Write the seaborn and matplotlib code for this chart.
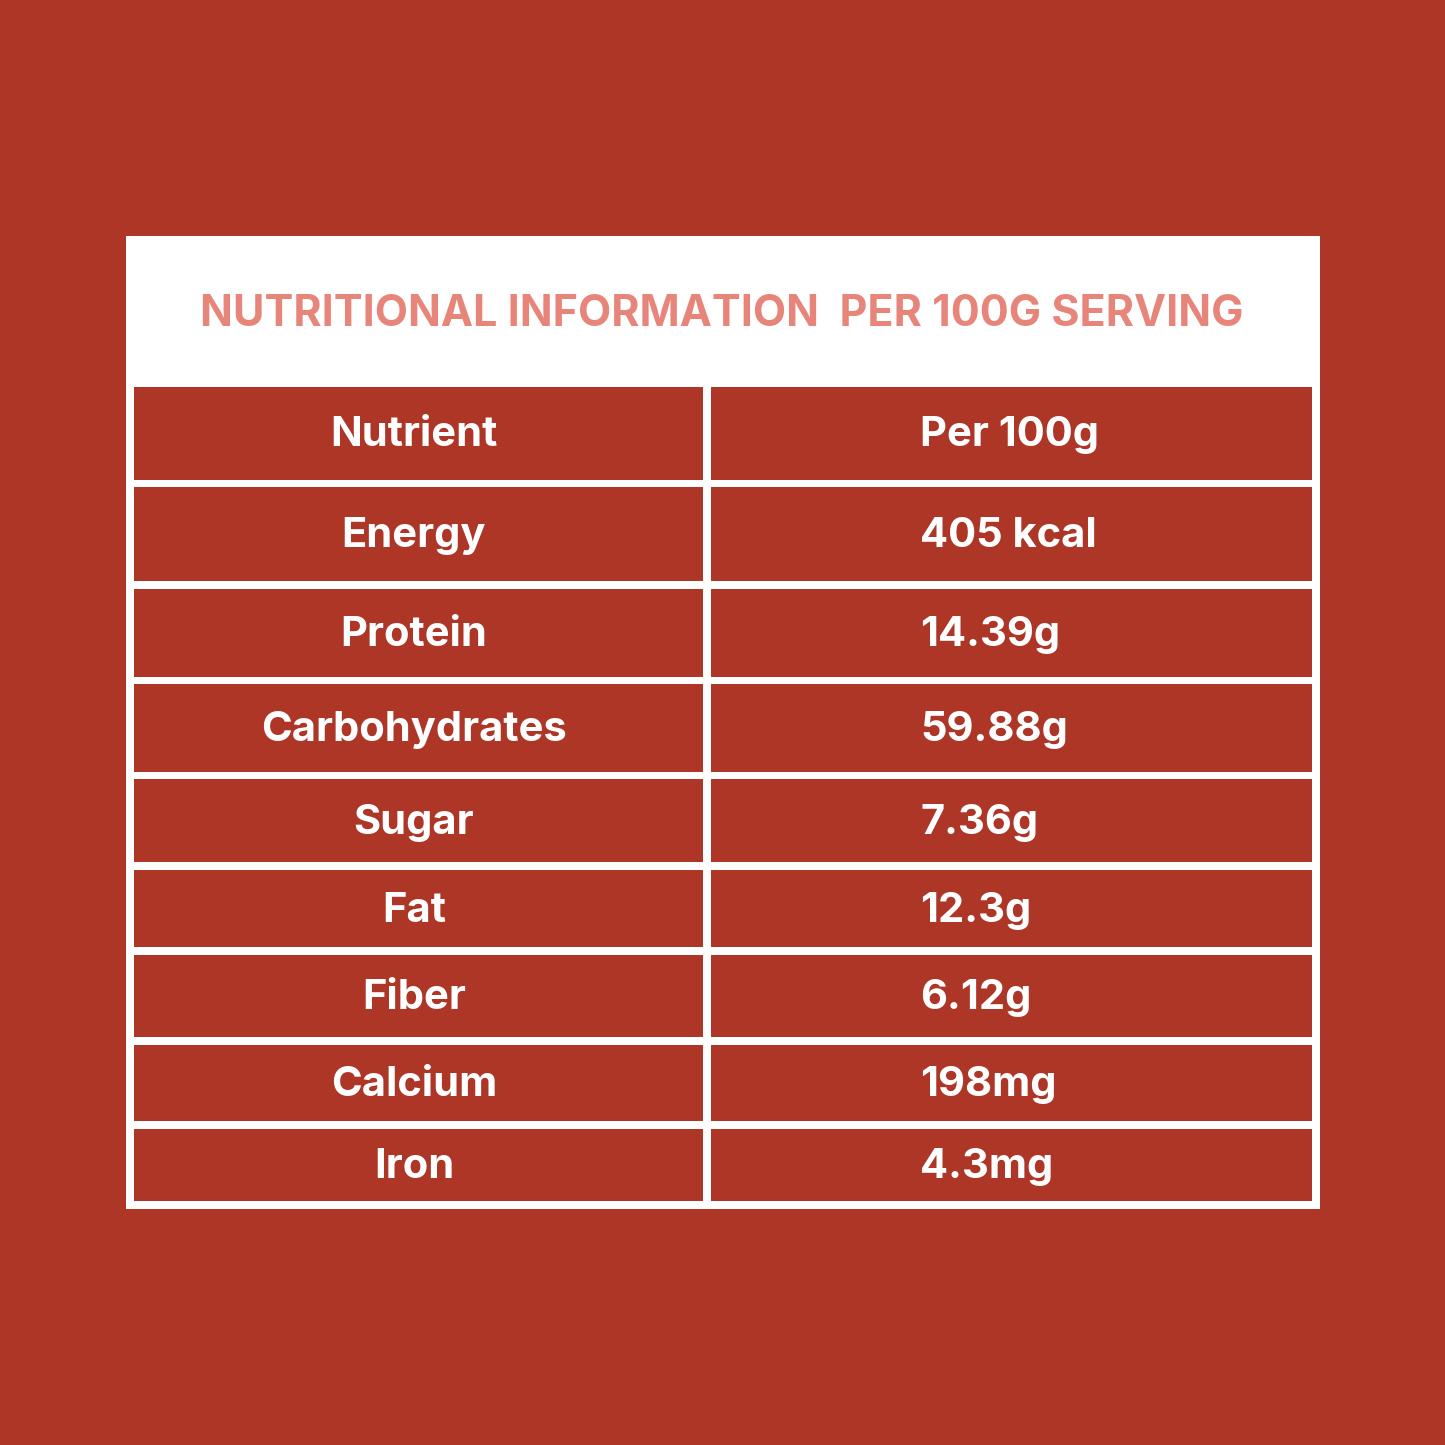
import matplotlib
matplotlib.use("Agg")
import matplotlib.pyplot as plt
import seaborn as sns
from matplotlib.patches import Rectangle

sns.set_theme(style="white")
plt.rcParams['font.family'] = ['Inter', 'DejaVu Sans']

title = "NUTRITIONAL INFORMATION  PER 100G SERVING"
header = ["Nutrient", "Per 100g"]
nutrients = ["Energy", "Protein", "Carbohydrates", "Sugar", "Fat", "Fiber", "Calcium", "Iron"]
values = ["405 kcal", "14.39g", "59.88g", "7.36g", "12.3g", "6.12g", "198mg", "4.3mg"]

BG = "#AD3627"
PINK = "#E8857A"
row_tops = [387, 487, 589, 684, 779, 870, 955, 1045, 1129]
row_bots = [480, 581, 677, 772, 862, 947, 1037, 1121, 1201]

fig = plt.figure(figsize=(14.45, 14.45), dpi=100, facecolor=BG)
ax = fig.add_axes([0, 0, 1, 1])
ax.set_xlim(0, 1445); ax.set_ylim(1445, 0); ax.axis("off")
ax.add_patch(Rectangle((126, 236), 1194, 973, color="white", lw=0))
ax.text(722, 315, title, ha="center", va="center", color=PINK, fontsize=31, fontweight="bold")

rows = [header] + list(zip(nutrients, values))
for i, (a, b) in enumerate(rows):
    t, bt = row_tops[i], row_bots[i]
    ax.add_patch(Rectangle((134, t), 569, bt - t, color=BG, lw=0))
    ax.add_patch(Rectangle((711, t), 601, bt - t, color=BG, lw=0))
    yc = (t + bt) / 2 + 2
    ax.text(414, yc, a, ha="center", va="center", color="white", fontsize=30, fontweight="bold")
    ax.text(920, yc, b, ha="left", va="center", color="white", fontsize=30, fontweight="bold")

fig.savefig("out.png", dpi=100, facecolor=BG)
